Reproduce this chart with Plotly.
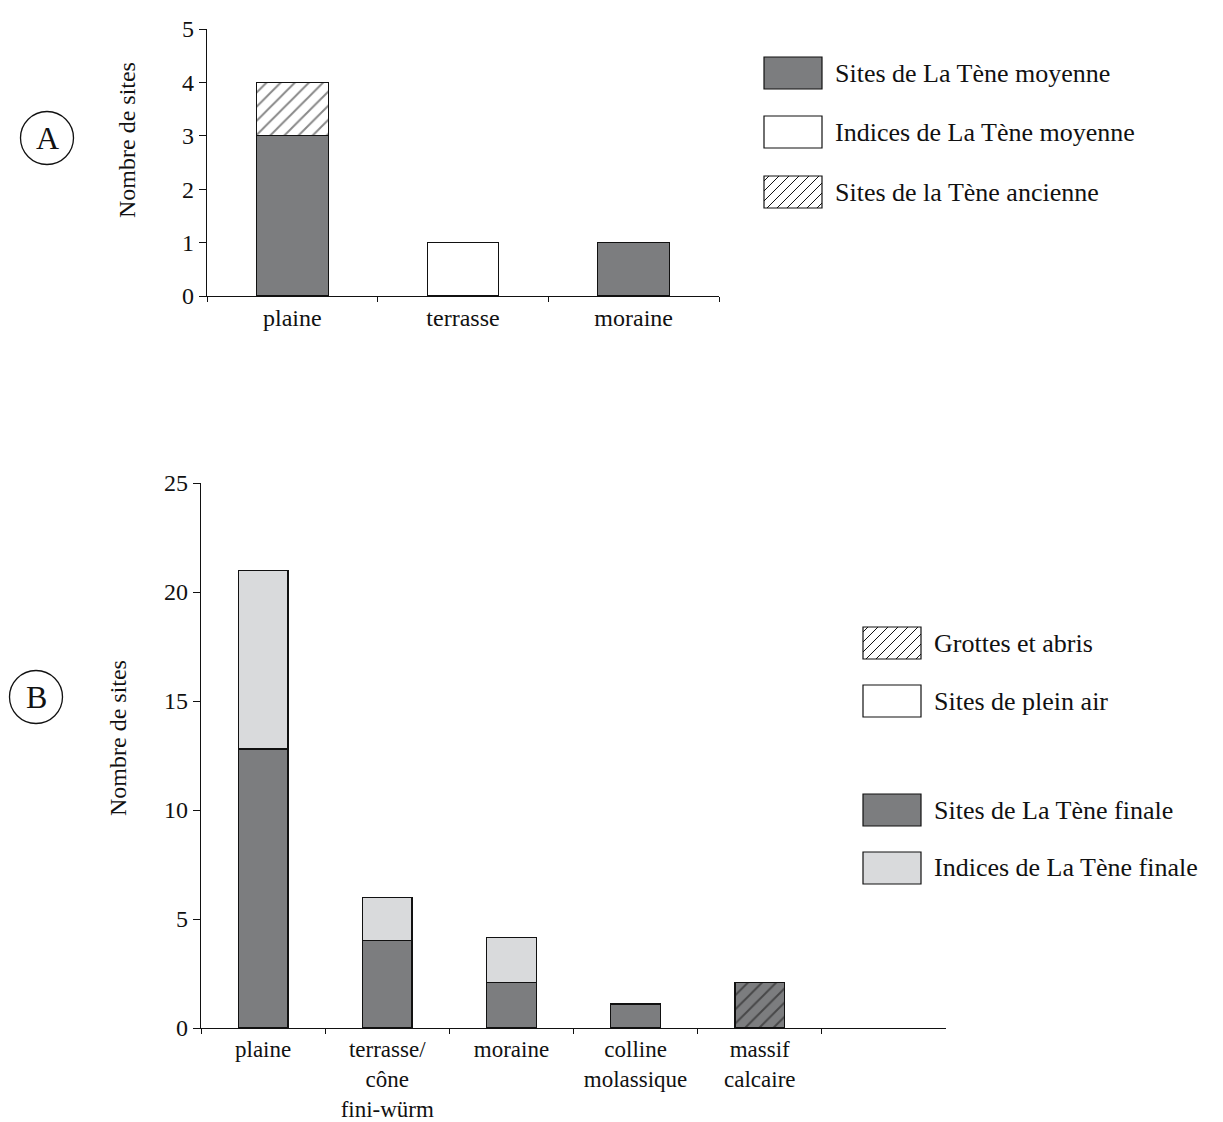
import plotly.graph_objects as go

# ---------------- Data ----------------
cats_a = ["plaine", "terrasse", "moraine"]
sites_moyenne = [3, None, 1]
indices_moyenne = [None, 1, None]
sites_ancienne = [1, None, None]

cats_b = ["plaine", "terrasse/<br>cône<br>fini-würm", "moraine",
          "colline<br>molassique", "massif<br>calcaire", " "]
sites_finale = [12.8, 4, 2.1, 1.1, None]
indices_finale = [8.2, 2, 2.05, None, None]
grottes_abris = [None, None, None, None, 2.1]

legend_a = ["Sites de La Tène moyenne", "Indices de La Tène moyenne", "Sites de la Tène ancienne"]
legend_b = ["Grottes et abris", "Sites de plein air", "Sites de La Tène finale", "Indices de La Tène finale"]

# ---------------- Style ----------------
W, H = 1223, 1122
FONT = "Liberation Serif"
DARK = "#7c7d7f"
LIGHT = "#d9dadc"
WHITE = "#ffffff"
INK = "#111111"


def px(x):
    return x / W


def py(y):
    return 1 - y / H


fig = go.Figure()

line = dict(color=INK, width=1.2)

# Chart A
fig.add_trace(go.Bar(x=cats_a, y=sites_moyenne, marker=dict(color=DARK, line=line),
                     xaxis="x", yaxis="y", name=legend_a[0], showlegend=False))
fig.add_trace(go.Bar(x=cats_a, y=indices_moyenne, marker=dict(color=WHITE, line=line),
                     xaxis="x", yaxis="y", name=legend_a[1], showlegend=False))
fig.add_trace(go.Bar(x=cats_a, y=sites_ancienne,
                     marker=dict(color=WHITE, line=line,
                                 pattern=dict(shape="/", fgcolor=INK, bgcolor=WHITE,
                                              size=10, solidity=0.2)),
                     xaxis="x", yaxis="y", name=legend_a[2], showlegend=False))

# Chart B
fig.add_trace(go.Bar(x=cats_b[:5], y=sites_finale, marker=dict(color=DARK, line=line),
                     xaxis="x2", yaxis="y2", name=legend_b[2], showlegend=False, width=0.40))
fig.add_trace(go.Bar(x=cats_b[:5], y=indices_finale, marker=dict(color=LIGHT, line=line),
                     xaxis="x2", yaxis="y2", name=legend_b[3], showlegend=False, width=0.40))
fig.add_trace(go.Bar(x=cats_b[:5], y=grottes_abris,
                     marker=dict(color=DARK, line=line,
                                 pattern=dict(shape="/", fgcolor=INK, bgcolor=DARK,
                                              size=10, solidity=0.2)),
                     xaxis="x2", yaxis="y2", name=legend_b[0], showlegend=False, width=0.40))

axis_common = dict(showline=True, linecolor=INK, linewidth=1.3, ticks="outside",
                   tickcolor=INK, tickwidth=1.2, showgrid=False, zeroline=False,
                   automargin=False)

fig.update_layout(
    width=W, height=H, autosize=False,
    margin=dict(l=0, r=0, t=0, b=0, pad=0),
    paper_bgcolor="white", plot_bgcolor="white",
    barmode="stack", bargap=0.58,
    showlegend=False,
    xaxis=dict(domain=[px(207), px(719)], anchor="y", type="category",
               categoryorder="array", categoryarray=cats_a, range=[-0.5, 2.5],
               tickson="boundaries", ticklen=5,
               tickfont=dict(family=FONT, size=24, color=INK), **axis_common),
    yaxis=dict(domain=[py(296), py(29)], anchor="x", range=[0, 5], dtick=1,
               ticklen=7, tickfont=dict(family=FONT, size=24, color=INK), **axis_common),
    xaxis2=dict(domain=[px(201), px(946)], anchor="y2", type="category",
                categoryorder="array", categoryarray=cats_b, range=[-0.5, 5.5],
                tickson="boundaries", ticklen=5,
                tickfont=dict(family=FONT, size=23, color=INK), **axis_common),
    yaxis2=dict(domain=[py(1028), py(483)], anchor="x2", range=[0, 25], dtick=5,
                ticklen=7, tickfont=dict(family=FONT, size=24, color=INK), **axis_common),
)

shapes = []
annotations = []


def hatch_lines(x0, y0, x1, y1, spacing=10):
    segs = []
    c = x0 + y0 + spacing / 2
    while c < x1 + y1:
        xa = max(x0, c - y1)
        xb = min(x1, c - y0)
        if xb > xa:
            segs.append(f"M{px(xa)},{py(c - xa)} L{px(xb)},{py(c - xb)}")
        c += spacing
    return " ".join(segs)


def legend_box(x0, yc, fill, hatched=False):
    x1 = x0 + 58
    y0, y1 = yc - 16, yc + 16
    shapes.append(dict(type="rect", xref="paper", yref="paper",
                       x0=px(x0), x1=px(x1), y0=py(y1), y1=py(y0),
                       fillcolor=fill, line=dict(color=INK, width=1.2)))
    if hatched:
        shapes.append(dict(type="path", xref="paper", yref="paper",
                           path=hatch_lines(x0, y0, x1, y1, 10),
                           line=dict(color=INK, width=1)))


def legend_text(x, yc, text):
    annotations.append(dict(x=px(x), y=py(yc), xref="paper", yref="paper",
                            text=text, showarrow=False, xanchor="left", yanchor="middle",
                            font=dict(family=FONT, size=26, color=INK)))


# Legend A
legend_box(764, 73, DARK)
legend_text(833, 73, legend_a[0])
legend_box(764, 132, WHITE)
legend_text(833, 132, legend_a[1])
legend_box(764, 192, WHITE, hatched=True)
legend_text(833, 192, legend_a[2])

# Legend B
legend_box(863, 643, WHITE, hatched=True)
legend_text(932, 643, legend_b[0])
legend_box(863, 701, WHITE)
legend_text(932, 701, legend_b[1])
legend_box(863, 810, DARK)
legend_text(932, 810, legend_b[2])
legend_box(863, 868, LIGHT)
legend_text(932, 868, legend_b[3])

# Axis titles
for xc, yc in [(127, 140), (118, 738)]:
    annotations.append(dict(x=px(xc), y=py(yc), xref="paper", yref="paper",
                            text="Nombre de sites", textangle=-90, showarrow=False,
                            xanchor="center", yanchor="middle",
                            font=dict(family=FONT, size=24, color=INK)))

# Circled panel letters
for (cx, cy, letter) in [(47, 138, "A"), (36, 697, "B")]:
    r = 26.5
    shapes.append(dict(type="circle", xref="paper", yref="paper",
                       x0=px(cx - r), x1=px(cx + r), y0=py(cy + r), y1=py(cy - r),
                       line=dict(color=INK, width=1.3)))
    annotations.append(dict(x=px(cx), y=py(cy), xref="paper", yref="paper",
                            text=letter, showarrow=False, xanchor="center", yanchor="middle",
                            font=dict(family=FONT, size=32, color=INK)))

fig.update_layout(shapes=shapes, annotations=annotations)

fig.write_html("out.html", config={"displayModeBar": False},
               post_script="document.body.style.margin='0';document.body.style.overflow='hidden';")
